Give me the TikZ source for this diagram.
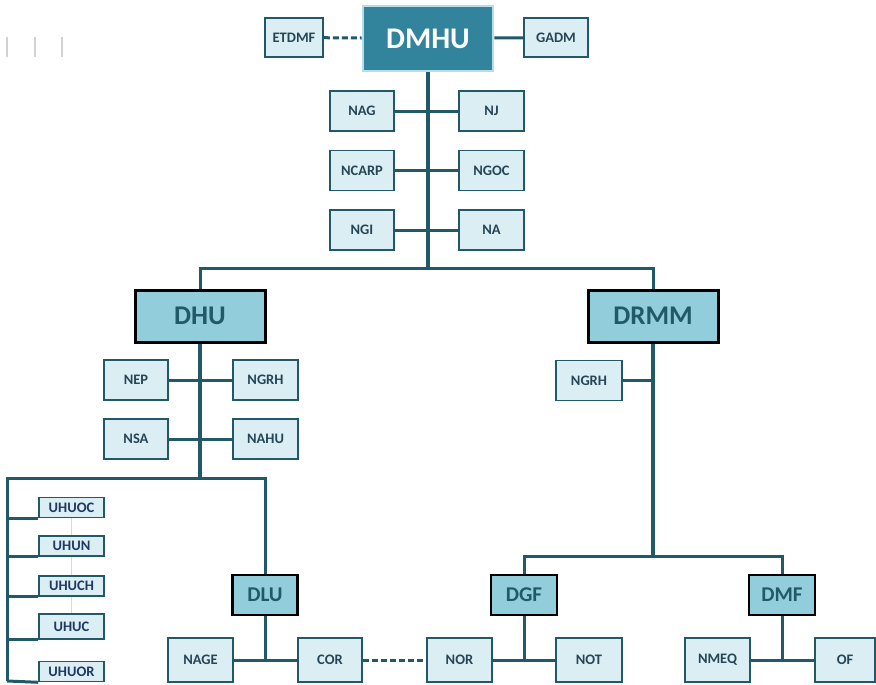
\documentclass[tikz,border=0pt]{standalone}
\usepackage{fontspec}
\setmainfont{Carlito}
\definecolor{ln}{HTML}{215968}
\definecolor{lf}{HTML}{DBEEF4}
\definecolor{mf}{HTML}{92CDDC}
\definecolor{df}{HTML}{31849B}
\definecolor{lb}{HTML}{B7DEE8}
\definecolor{tx}{HTML}{264556}
\definecolor{ux}{HTML}{1F3864}
\tikzset{
  sbox/.style={draw=ln,line width=1.6pt,fill=lf,inner sep=0pt,minimum width=64pt,minimum height=40pt,font=\fontsize{14.5}{14.5}\selectfont\bfseries,text=tx},
  ubox/.style={draw=ln,line width=1.6pt,fill=lf,inner sep=0pt,minimum width=65pt,minimum height=20pt,font=\fontsize{14.5}{14.5}\selectfont\bfseries,text=ux},
  bbox/.style={draw=black,line width=3pt,fill=mf,inner sep=0pt,minimum width=130pt,minimum height=52pt,font=\fontsize{27}{27}\selectfont\bfseries,text=ln},
  cbox/.style={draw=black,line width=2.8pt,fill=mf,inner sep=0pt,minimum width=65pt,minimum height=40pt,font=\fontsize{21}{21}\selectfont\bfseries,text=ln},
  trunkline/.style={draw=ln,line width=3.4pt},
  linkline/.style={draw=ln,line width=3pt},
  dashline/.style={draw=ln,line width=3pt,dash pattern=on 6pt off 3pt}}
\begin{document}
\begin{tikzpicture}[x=1pt,y=-1pt]
\useasboundingbox (0,0) rectangle (876,685);
% tick marks
\draw[gray!35,line width=1.2pt] (7,37) -- (7,57) (35,37) -- (35,57) (62,37) -- (62,57);
% top
\node[draw=lb,line width=2.8pt,fill=df,inner sep=0pt,minimum width=130pt,minimum height=65pt,text=white,font=\fontsize{30}{30}\selectfont\bfseries] (dmhu) at (428,38.5) {DMHU};
\node[sbox,minimum width=58pt,minimum height=39pt] (etdmf) at (294,37.5) {ETDMF};
\node[sbox,minimum height=39pt] (gadm) at (556,37.5) {GADM};
\draw[dashline] (etdmf) -- (dmhu);
\draw[linkline] (dmhu) -- (gadm);
\node[sbox] (nag) at (362,111) {NAG};
\node[sbox,minimum width=65pt] (nj) at (491.5,111) {NJ};
\node[sbox] (ncarp) at (362,170.5) {NCARP};
\node[sbox,minimum width=65pt] (ngoc) at (491.5,170.5) {NGOC};
\node[sbox] (ngi) at (362,230) {NGI};
\node[sbox,minimum width=65pt] (na) at (491.5,230) {NA};
\coordinate (j1) at (428,268);
\draw[trunkline] (dmhu.south) -- (j1);
\draw[linkline] (nag) -- (nj);
\draw[linkline] (ncarp) -- (ngoc);
\draw[linkline] (ngi) -- (na);
% level 2
\node[bbox] (dhu) at (200,316) {DHU};
\node[bbox] (drmm) at (653,316) {DRMM};
\draw[linkline] (dhu.north) |- (j1) -| (drmm.north);
% DHU branch
\node[sbox] (nep) at (136,380) {NEP};
\node[sbox,minimum width=65pt] (ngrh) at (265.5,380) {NGRH};
\node[sbox] (nsa) at (136,439) {NSA};
\node[sbox,minimum width=65pt] (nahu) at (265.5,439) {NAHU};
\coordinate (j2) at (200,478);
\draw[trunkline] (dhu.south) -- (j2);
\draw[linkline] (nep) -- (ngrh);
\draw[linkline] (nsa) -- (nahu);
% left bus
\coordinate (lbus) at (7,681);
\node[ubox] (uhuoc) at (71.5,507.5) {UHUOC};
\node[ubox] (uhun) at (71.5,546) {UHUN};
\node[ubox] (uhuch) at (71.5,586) {UHUCH};
\node[ubox,minimum height=25pt] (uhuc) at (71.5,626.5) {UHUC};
\node[ubox] (uhuor) at (71.5,671.5) {UHUOR};
\draw[gray!30,line width=1.2pt] (uhuoc.south) -- (uhun.north) (uhun.south) -- (uhuch.north) (uhuch.south) -- (uhuc.north);
\node[cbox] (dlu) at (265,595) {DLU};
\draw[linkline] (lbus) |- (j2) -| (dlu.north);
\draw[linkline] (lbus) -- (uhuor.south west);
\draw[linkline] (uhuoc.south west) -- (uhuoc.south west -| lbus);
\draw[linkline] (uhun.south west) -- (uhun.south west -| lbus);
\draw[linkline] (uhuch.south west) -- (uhuch.south west -| lbus);
\draw[linkline] (uhuc.south west) -- (uhuc.south west -| lbus);
% DLU branch
\node[sbox,minimum width=65pt,minimum height=44pt] (nage) at (200.5,660) {NAGE};
\node[sbox,minimum height=44pt] (cor) at (330,660) {COR};
\draw[linkline] (dlu.south) -- (dlu.south |- nage.east);
\draw[linkline] (nage) -- (cor);
% DRMM branch
\node[sbox,minimum width=66pt] (ngrh2) at (589,380.5) {NGRH};
\coordinate (j3) at (653,556);
\draw[trunkline] (drmm.south) -- (j3);
\draw[linkline] (ngrh2) -- (ngrh2 -| drmm.south);
\node[cbox,minimum width=66pt] (dgf) at (524,595) {DGF};
\node[cbox,minimum width=66pt] (dmf) at (782,595) {DMF};
\draw[linkline] (dgf.north) |- (j3) -| (dmf.north);
\node[sbox,minimum width=65pt,minimum height=44pt] (nor) at (459.5,660) {NOR};
\node[sbox,minimum width=66pt,minimum height=44pt] (not) at (589,660) {NOT};
\draw[dashline] (cor) -- (nor);
\draw[linkline] (dgf.south) -- (dgf.south |- nor.east);
\draw[linkline] (nor) -- (not);
\node[sbox,minimum width=65pt,minimum height=44pt] (nmeq) at (717.5,660) {NMEQ};
\node[sbox,minimum width=60pt,minimum height=44pt] (of) at (845,660) {OF};
\draw[linkline] (dmf.south) -- (dmf.south |- nmeq.east);
\draw[linkline] (nmeq) -- (of);
\end{tikzpicture}
\end{document}
